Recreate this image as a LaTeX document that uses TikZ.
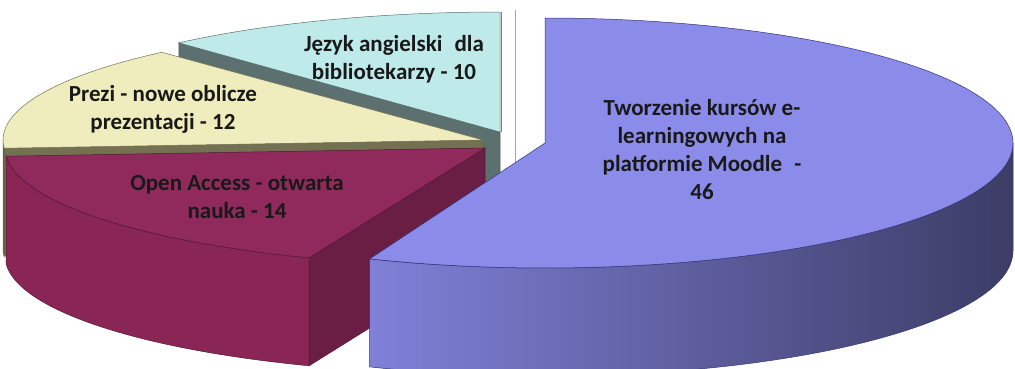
\documentclass[tikz,border=0pt]{standalone}
\usepackage{fontspec}
\setmainfont{Carlito}
\begin{document}
\begin{tikzpicture}[x=1pt,y=-1pt,
  lbl/.style={align=center,font=\bfseries\fontsize{23}{28}\selectfont,text=black!90,inner sep=0pt},
  edge/.style={line width=0.5pt}]
\definecolor{cyantop}{RGB}{190,234,234}
\definecolor{cyanface}{RGB}{92,112,112}
\definecolor{yeltop}{RGB}{239,237,190}
\definecolor{yelface}{RGB}{115,113,82}
\definecolor{martop}{RGB}{145,42,92}
\definecolor{marside}{RGB}{138,38,86}
\definecolor{marface}{RGB}{106,30,68}
\definecolor{purtop}{RGB}{139,139,234}
\definecolor{purL}{RGB}{128,128,216}
\definecolor{purM}{RGB}{92,92,158}
\definecolor{purR}{RGB}{60,60,102}
\definecolor{puredge}{RGB}{50,50,120}
\useasboundingbox[fill=white] (0,0) rectangle (1015,369);
% separator line
\draw[gray!70,line width=1pt] (515,10) -- (515,163);
% cyan slice (Jezyk angielski)
\fill[cyanface,draw=cyanface!80!black,edge] (500,132) -- ({500+480*cos(228)},{132+120*sin(228)}) -- ({500+480*cos(228)},{240+120*sin(228)}) -- (500,240) -- cycle;
\fill[cyantop,draw=cyanface,edge] (500,132) -- plot[domain=228:270,samples=40] ({500+480*cos(\x)},{132+120*sin(\x)}) -- cycle;
\draw[gray,line width=1pt] (501,12) -- (501,132);
% yellow slice (Prezi)
\fill[yelface,draw=yelface!80!black,edge] (483,140) -- ({483+480*cos(176)},{140+118*sin(176)}) -- ({483+480*cos(176)},{248+118*sin(176)}) -- (483,248) -- cycle;
\fill[yelface,draw=yelface!80!black,edge] plot[domain=176:180,samples=5] ({483+480*cos(\x)},{140+118*sin(\x)}) -- plot[domain=180:176,samples=5] ({483+480*cos(\x)},{248+118*sin(\x)}) -- cycle;
\fill[yeltop,draw=yelface,edge] (483,140) -- plot[domain=176:228,samples=40] ({483+480*cos(\x)},{140+118*sin(\x)}) -- cycle;
% maroon slice (Open Access)
\fill[marside,draw=marface!80!black,edge] plot[domain=111.5:176,samples=50] ({485+480*cos(\x)},{148+118*sin(\x)}) -- plot[domain=176:111.5,samples=50] ({485+480*cos(\x)},{256+118*sin(\x)}) -- cycle;
\fill[marface,draw=marface!80!black,edge] (485,148) -- ({485+480*cos(111.5)},{148+118*sin(111.5)}) -- ({485+480*cos(111.5)},{256+118*sin(111.5)}) -- (485,256) -- cycle;
\fill[martop,draw=marface!80!black,edge] (485,148) -- plot[domain=111.5:176,samples=50] ({485+480*cos(\x)},{148+118*sin(\x)}) -- cycle;
% purple slice (Moodle)
\shade[left color=purL,middle color=purM,right color=purR,draw=puredge,edge] plot[domain=0:112,samples=80] ({545+468*cos(\x)},{143+125*sin(\x)}) -- plot[domain=112:0,samples=80] ({545+468*cos(\x)},{251+125*sin(\x)}) -- cycle;
\fill[purtop,draw=puredge,edge] (545,143) -- plot[domain=-90:112,samples=120] ({545+468*cos(\x)},{143+125*sin(\x)}) -- cycle;
% labels
\node[lbl] (jez) at (394,59) {Język angielski\hspace{0.3em} dla\\bibliotekarzy - 10};
\node[lbl] (pre) at (163,109) {Prezi - nowe oblicze\\prezentacji - 12};
\node[lbl] (ope) at (237,197) {Open Access - otwarta\\nauka - 14};
\node[lbl] (moo) at (702,150) {Tworzenie kursów e-\\learningowych na\\platformie Moodle\hspace{0.3em} -\\46};
\end{tikzpicture}
\end{document}
